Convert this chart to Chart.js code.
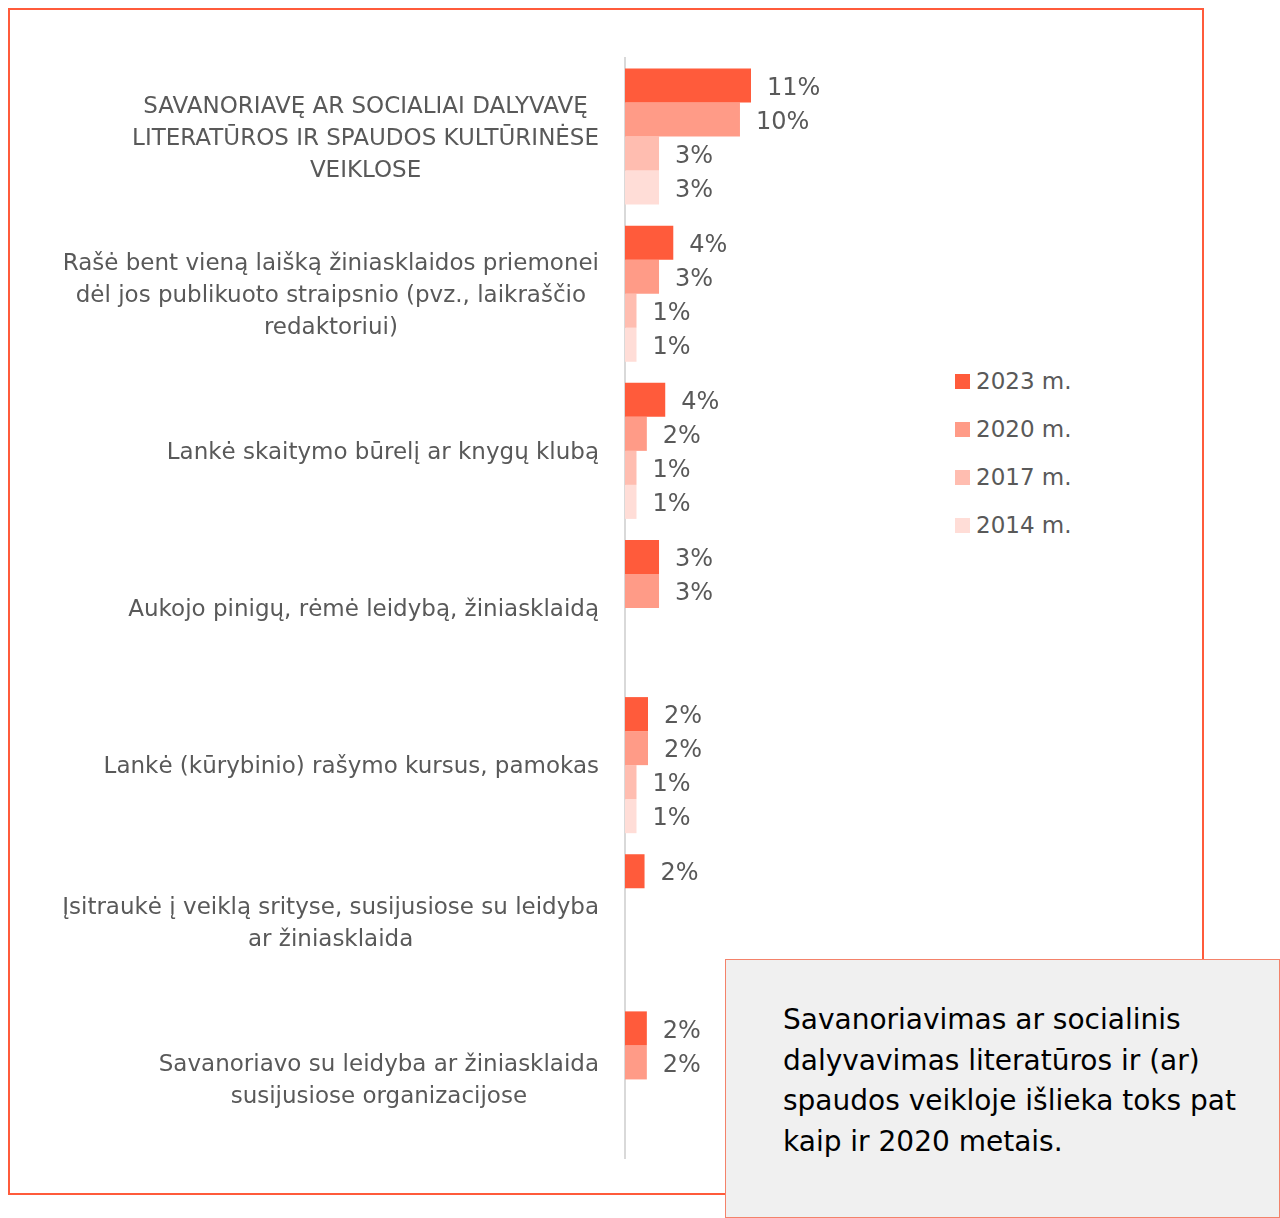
<!DOCTYPE html>
<html>
<head>
<meta charset="utf-8">
<script src="https://cdn.jsdelivr.net/npm/chart.js@4.4.0/dist/chart.umd.min.js"></script>
<style>
    body { margin: 0; background: #fff; width: 1280px; height: 1218px; position: relative; overflow: hidden; font-family: "DejaVu Sans", sans-serif; }
    .frame { position: absolute; left: 8px; top: 8px; width: 1192px; height: 1183px; border: 2px solid #ff5b3b; }
    .chartBox { position: absolute; left: 0; top: 0; width: 940px; height: 1218px; }
    .legend { position: absolute; left: 955px; top: 357px; }
    .legendItem { height: 48px; display: flex; align-items: center; color: #595959; font-size: 23px; }
    .legendItem span { display: inline-block; width: 15px; height: 15px; margin-right: 6px; }
    .note { position: absolute; left: 725px; top: 959px; width: 555px; height: 259px; box-sizing: border-box;
        background: #f0f0f0; border: 1px solid #f4826a; padding: 40px 20px 0 57px; color: #000; font-size: 28px; line-height: 40.5px; }
</style>
</head>
<body>
<div class="frame"></div>
<div class="chartBox"><canvas id="myChart"></canvas></div>
<div class="legend" id="legend"></div>
<div class="note">Savanoriavimas ar socialinis dalyvavimas literatūros ir (ar) spaudos veikloje išlieka toks pat kaip ir 2020 metais.</div>
<script>
const categories = [
    ["SAVANORIAVĘ AR SOCIALIAI DALYVAVĘ", "LITERATŪROS IR SPAUDOS KULTŪRINĖSE", "VEIKLOSE"],
    ["Rašė bent vieną laišką žiniasklaidos priemonei", "dėl jos publikuoto straipsnio (pvz., laikraščio", "redaktoriui)"],
    ["Lankė skaitymo būrelį ar knygų klubą"],
    ["Aukojo pinigų, rėmė leidybą, žiniasklaidą"],
    ["Lankė (kūrybinio) rašymo kursus, pamokas"],
    ["Įsitraukė į veiklą srityse, susijusiose su leidyba", "ar žiniasklaida"],
    ["Savanoriavo su leidyba ar žiniasklaida", "susijusiose organizacijose"]
];
const seriesNames = ["2023 m.", "2020 m.", "2017 m.", "2014 m."];
const values2023 = [10.96, 4.2, 3.5, 2.96, 2.0, 1.7, 1.9];
const values2020 = [10.0, 2.96, 1.9, 2.96, 2.0, null, 1.9];
const values2017 = [2.96, 1.0, 1.0, null, 1.0, null, null];
const values2014 = [2.96, 1.0, 1.0, null, 1.0, null, null];
const seriesColors = ["#ff5b3b", "#ff9b87", "#ffbdb0", "#ffddd7"];

const textColor = "#595959";
const allValues = [values2023, values2020, values2017, values2014];

// legend on the right, built from the same arrays
const legend = document.getElementById("legend");
seriesNames.forEach((name, i) => {
    const item = document.createElement("div");
    item.className = "legendItem";
    const box = document.createElement("span");
    box.style.background = seriesColors[i];
    item.appendChild(box);
    item.appendChild(document.createTextNode(name));
    legend.appendChild(item);
});

// category labels: each block right aligned, lines centred inside the block
const categoryLabels = {
    id: "categoryLabels",
    afterDraw(chart) {
        const ctx = chart.ctx;
        const yScale = chart.scales.y;
        ctx.save();
        ctx.font = "23px 'DejaVu Sans'";
        ctx.fillStyle = textColor;
        ctx.textAlign = "center";
        ctx.textBaseline = "middle";
        const right = chart.chartArea.left - 26;
        const lineHeight = 32;
        categories.forEach((lines, i) => {
            const widest = Math.max(...lines.map(l => ctx.measureText(l).width));
            const cx = right - widest / 2;
            const cy = yScale.getPixelForValue(i) + 2;
            const top = cy - (lines.length - 1) * lineHeight / 2;
            lines.forEach((l, j) => ctx.fillText(l, cx, top + j * lineHeight));
        });
        ctx.restore();
    }
};

// percent labels at the end of each bar
const valueLabels = {
    id: "valueLabels",
    afterDatasetsDraw(chart) {
        const ctx = chart.ctx;
        ctx.save();
        ctx.font = "24px 'DejaVu Sans'";
        ctx.fillStyle = textColor;
        ctx.textAlign = "left";
        ctx.textBaseline = "middle";
        chart.data.datasets.forEach((ds, i) => {
            chart.getDatasetMeta(i).data.forEach((bar, j) => {
                const v = ds.data[j];
                if (v == null) return;
                ctx.fillText(Math.round(v) + "%", bar.x + 16, bar.y + 3);
            });
        });
        ctx.restore();
    }
};

const data = {
    labels: categories.map(c => c.join(" ")),
    datasets: seriesNames.map((name, i) => ({
        label: name,
        data: allValues[i],
        backgroundColor: seriesColors[i],
        barPercentage: 1,
        categoryPercentage: 0.866
    }))
};

const config = {
    type: "bar",
    data: data,
    options: {
        indexAxis: "y",
        responsive: true,
        maintainAspectRatio: false,
        animation: false,
        layout: { padding: { top: 58, bottom: 60, right: 0, left: 0 } },
        plugins: {
            legend: { display: false },
            tooltip: { enabled: false }
        },
        scales: {
            x: {
                display: false,
                min: 0,
                max: 27.4
            },
            y: {
                grid: { display: false },
                border: { display: true, color: "#d9d9d9", width: 2 },
                ticks: { display: false },
                afterFit: (scale) => { scale.width = 625; }
            }
        }
    },
    plugins: [categoryLabels, valueLabels]
};

new Chart(document.getElementById("myChart"), config);
</script>
</body>
</html>
